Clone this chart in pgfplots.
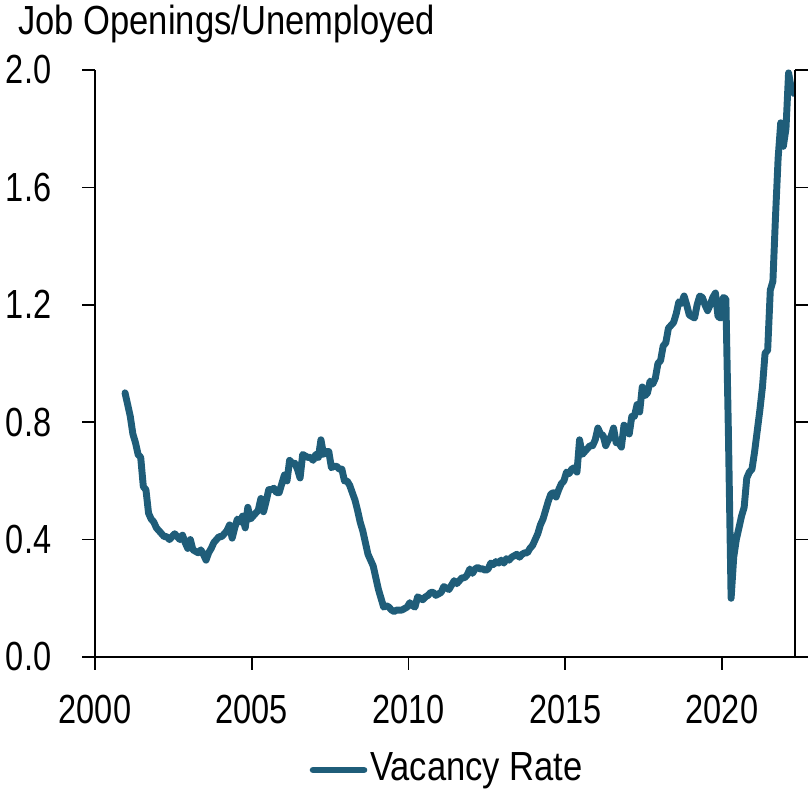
\documentclass[border=0pt]{standalone}
\usepackage{pgfplots}
\usepackage{pgfplotstable}
\pgfplotsset{compat=1.18}
\usepackage{fontspec}
\setmainfont{Liberation Sans}[FakeStretch=0.85]
\newfontfamily\tickfont{Liberation Sans}[FakeStretch=0.80]
\definecolor{vac}{RGB}{31,93,121}
\pgfplotstableread{
t v
2000.958 0.90
2001.042 0.86
2001.125 0.82
2001.208 0.76
2001.292 0.73
2001.375 0.69
2001.458 0.68
2001.542 0.58
2001.625 0.57
2001.708 0.49
2001.792 0.47
2001.875 0.46
2001.958 0.44
2002.042 0.43
2002.125 0.42
2002.208 0.41
2002.292 0.41
2002.375 0.40
2002.458 0.41
2002.542 0.42
2002.625 0.41
2002.708 0.40
2002.792 0.415
2002.875 0.39
2002.958 0.37
2003.042 0.40
2003.125 0.365
2003.208 0.36
2003.292 0.355
2003.375 0.365
2003.458 0.35
2003.542 0.33
2003.625 0.355
2003.708 0.37
2003.792 0.39
2003.875 0.40
2003.958 0.41
2004.042 0.41
2004.125 0.42
2004.208 0.43
2004.292 0.45
2004.375 0.405
2004.458 0.44
2004.542 0.47
2004.625 0.46
2004.708 0.48
2004.792 0.44
2004.875 0.51
2004.958 0.47
2005.042 0.48
2005.125 0.49
2005.208 0.50
2005.292 0.54
2005.375 0.495
2005.458 0.53
2005.542 0.57
2005.625 0.57
2005.708 0.575
2005.792 0.56
2005.875 0.56
2005.958 0.59
2006.042 0.62
2006.125 0.60
2006.208 0.67
2006.292 0.66
2006.375 0.66
2006.458 0.64
2006.542 0.61
2006.625 0.69
2006.708 0.685
2006.792 0.68
2006.875 0.68
2006.958 0.67
2007.042 0.69
2007.125 0.68
2007.208 0.74
2007.292 0.69
2007.375 0.70
2007.458 0.70
2007.542 0.645
2007.625 0.65
2007.708 0.65
2007.792 0.64
2007.875 0.64
2007.958 0.60
2008.042 0.60
2008.125 0.585
2008.208 0.56
2008.292 0.535
2008.375 0.50
2008.458 0.46
2008.542 0.43
2008.625 0.39
2008.708 0.35
2008.792 0.33
2008.875 0.31
2008.958 0.27
2009.042 0.23
2009.125 0.20
2009.208 0.17
2009.292 0.175
2009.375 0.17
2009.458 0.16
2009.542 0.155
2009.625 0.16
2009.708 0.16
2009.792 0.16
2009.875 0.165
2009.958 0.17
2010.042 0.185
2010.125 0.175
2010.208 0.17
2010.292 0.205
2010.375 0.20
2010.458 0.195
2010.542 0.205
2010.625 0.21
2010.708 0.22
2010.792 0.22
2010.875 0.21
2010.958 0.215
2011.042 0.22
2011.125 0.24
2011.208 0.235
2011.292 0.23
2011.375 0.245
2011.458 0.26
2011.542 0.25
2011.625 0.26
2011.708 0.27
2011.792 0.27
2011.875 0.28
2011.958 0.30
2012.042 0.285
2012.125 0.30
2012.208 0.305
2012.292 0.30
2012.375 0.30
2012.458 0.295
2012.542 0.30
2012.625 0.32
2012.708 0.315
2012.792 0.325
2012.875 0.32
2012.958 0.33
2013.042 0.32
2013.125 0.335
2013.208 0.33
2013.292 0.34
2013.375 0.345
2013.458 0.35
2013.542 0.34
2013.625 0.35
2013.708 0.355
2013.792 0.355
2013.875 0.37
2013.958 0.38
2014.042 0.40
2014.125 0.42
2014.208 0.45
2014.292 0.47
2014.375 0.50
2014.458 0.53
2014.542 0.555
2014.625 0.56
2014.708 0.545
2014.792 0.57
2014.875 0.59
2014.958 0.60
2015.042 0.63
2015.125 0.625
2015.208 0.64
2015.292 0.645
2015.375 0.63
2015.458 0.74
2015.542 0.69
2015.625 0.70
2015.708 0.71
2015.792 0.72
2015.875 0.72
2015.958 0.74
2016.042 0.78
2016.125 0.76
2016.208 0.755
2016.292 0.72
2016.375 0.74
2016.458 0.75
2016.542 0.78
2016.625 0.73
2016.708 0.73
2016.792 0.715
2016.875 0.79
2016.958 0.78
2017.042 0.76
2017.125 0.82
2017.208 0.82
2017.292 0.86
2017.375 0.835
2017.458 0.92
2017.542 0.89
2017.625 0.90
2017.708 0.94
2017.792 0.93
2017.875 0.95
2017.958 1.00
2018.042 1.01
2018.125 1.06
2018.208 1.07
2018.292 1.12
2018.375 1.13
2018.458 1.14
2018.542 1.17
2018.625 1.21
2018.708 1.205
2018.792 1.23
2018.875 1.20
2018.958 1.165
2019.042 1.16
2019.125 1.155
2019.208 1.20
2019.292 1.23
2019.375 1.225
2019.458 1.20
2019.542 1.18
2019.625 1.20
2019.708 1.225
2019.792 1.24
2019.875 1.16
2019.958 1.155
2020.042 1.225
2020.125 1.22
2020.208 0.75
2020.292 0.20
2020.375 0.34
2020.458 0.40
2020.542 0.44
2020.625 0.48
2020.708 0.51
2020.792 0.61
2020.875 0.63
2020.958 0.64
2021.042 0.70
2021.125 0.77
2021.208 0.84
2021.292 0.92
2021.375 1.035
2021.458 1.045
2021.542 1.25
2021.625 1.28
2021.708 1.50
2021.792 1.70
2021.875 1.82
2021.958 1.74
2022.042 1.80
2022.125 1.99
2022.208 1.94
2022.292 1.92
}\vacdata

\begin{document}
\fontsize{30.5}{35}\selectfont
\begin{tikzpicture}
\path[use as bounding box] (-71.25pt,-103.5pt) rectangle (534.75pt,492.75pt);
\begin{axis}[
  at={(0,0)}, anchor=south west,
  scale only axis, width=525pt, height=440.25pt,
  xmin=2000, xmax=2022.33, ymin=0, ymax=2,
  axis x line*=bottom, axis y line*=left,
  axis line style={line width=1.2pt, black, -},
  xtick={2000,2005,2010,2015,2020},
  xticklabels={2000,2005,2010,2015,2020},
  ytick={0,0.4,0.8,1.2,1.6,2.0},
  yticklabels={0.0,0.4,0.8,1.2,1.6,2.0},
  tick align=outside, major tick length=9.5pt,
  tick style={line width=1.2pt, black},
  ticklabel style={font=\tickfont\fontsize{30.5}{35}\selectfont},
  yticklabel style={xshift=-13pt},
  xticklabel style={yshift=-8.5pt},
  legend style={at={(0.5036,-0.1925)}, anchor=center, draw=none, fill=none,
    font=\fontsize{30.5}{35}\selectfont, nodes={inner sep=2pt}},
  legend image code/.code={\draw[line width=5.2pt, line cap=round] (0pt,0pt) -- (38pt,0pt);},
]
\addplot[vac, line width=5.2pt, line join=round, line cap=round] table[x=t,y=v]{\vacdata};
\addlegendentry{Vacancy Rate}
\end{axis}
\begin{axis}[
  at={(0,0)}, anchor=south west,
  scale only axis, width=525pt, height=440.25pt,
  xmin=2000, xmax=2022.33, ymin=0, ymax=2,
  axis y line*=right, axis x line=none,
  axis line style={line width=1.2pt, black, -},
  ytick={0,0.4,0.8,1.2,1.6,2.0}, yticklabels={},
  tick align=outside, major tick length=10pt,
  tick style={line width=1.2pt, black},
]
\end{axis}
\node[anchor=base west, inner sep=0pt] at (-57.75pt,466.5pt) {Job Openings/Unemployed};
\end{tikzpicture}
\end{document}
